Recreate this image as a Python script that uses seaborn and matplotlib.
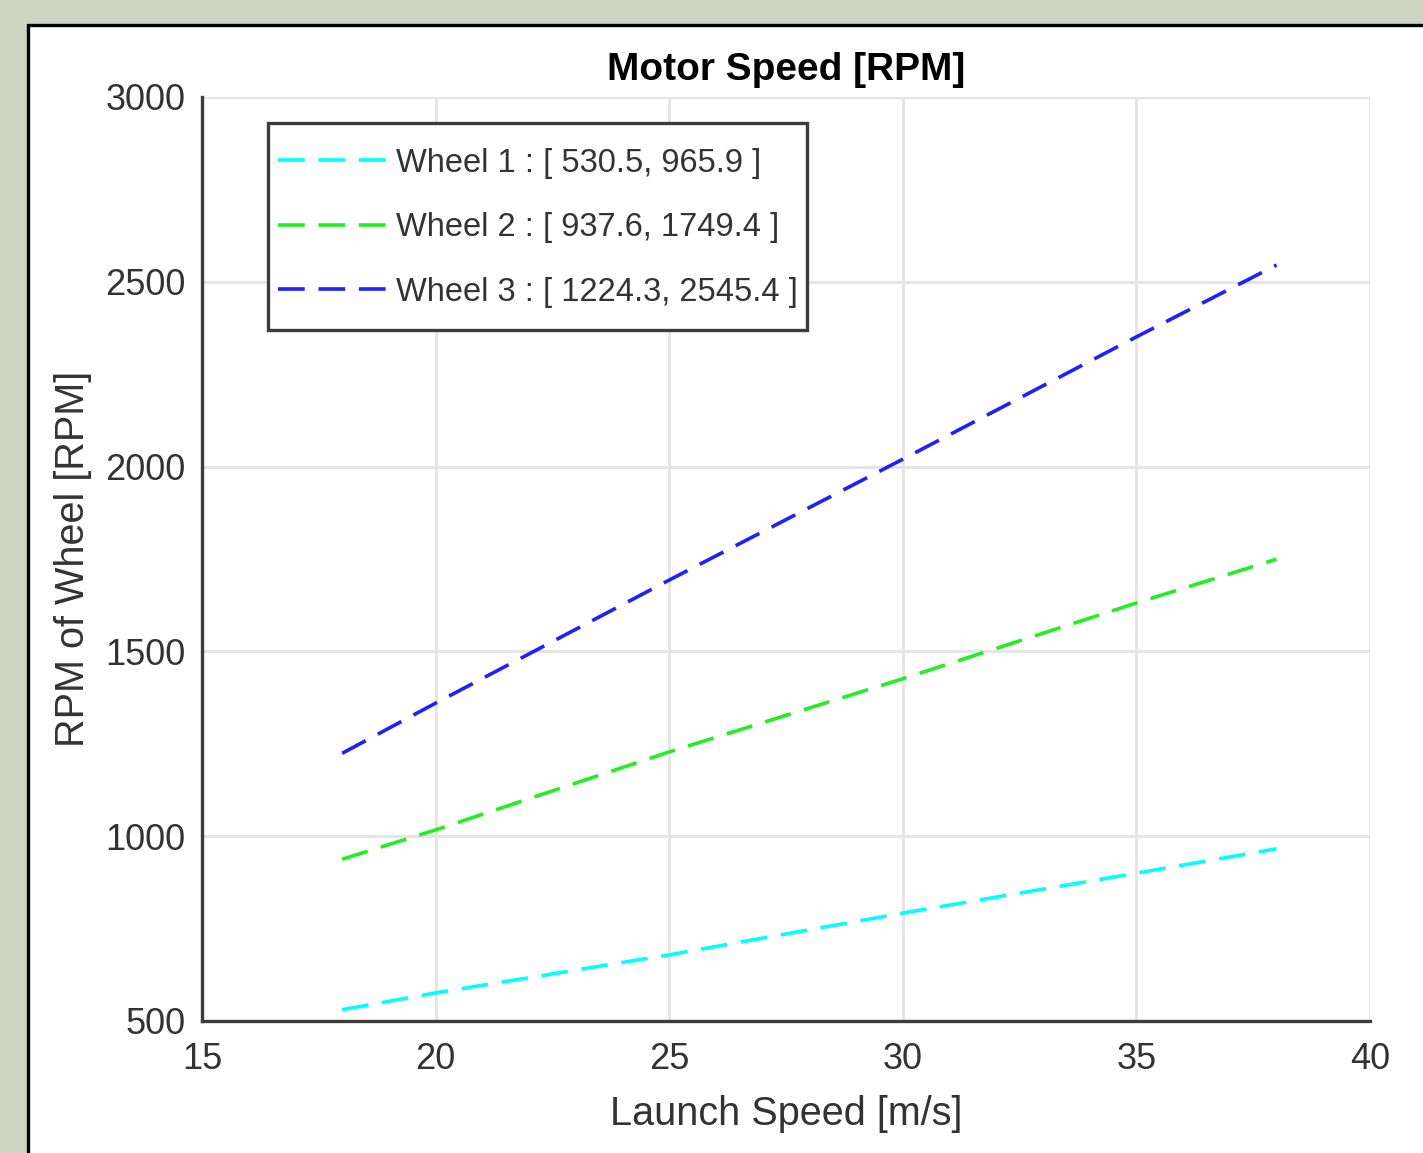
import matplotlib
matplotlib.use("Agg")
import matplotlib.pyplot as plt
import seaborn as sns
import numpy as np
from matplotlib.patches import Rectangle

# ---- data ----
launch_speed = [18, 20, 25, 30, 35, 38]
wheel1 = [530.5, 576, 679, 792, 900, 965.9]
wheel2 = [937.6, 1017, 1228, 1426, 1631, 1749.4]
wheel3 = [1224.3, 1360, 1693, 2020, 2351, 2545.4]
series_labels = ["Wheel 1 : [ 530.5, 965.9 ]",
                 "Wheel 2 : [ 937.6, 1749.4 ]",
                 "Wheel 3 : [ 1224.3, 2545.4 ]"]
series_colors = ["#00ffff", "#22ee22", "#2020ff"]
x_ticks = [15, 20, 25, 30, 35, 40]
y_ticks = [500, 1000, 1500, 2000, 2500, 3000]

sns.set_theme(style="white")
plt.rcParams['font.family'] = ['Liberation Sans', 'DejaVu Sans']

W, H = 1423, 1153
fig = plt.figure(figsize=(W / 100, H / 100), dpi=100)
fig.patch.set_facecolor("#cfd4c1")
panel = Rectangle((28 / W, -0.05), 1.2, 1 - 25 / H + 0.05, transform=fig.transFigure,
                  facecolor="white", edgecolor="black", linewidth=2.4, zorder=-10)
fig.add_artist(panel)

ax = fig.add_axes([202 / W, 1 - 1021 / H, (1370 - 202) / W, (1021 - 97) / H])
ax.set_zorder(5)
ax.set_facecolor("white")

lw = 2.6
dash = (0, (7.4, 3.8))
for yv, lab, col in zip([wheel1, wheel2, wheel3], series_labels, series_colors):
    sns.lineplot(x=launch_speed, y=yv, color=col, linestyle=dash, linewidth=lw,
                 label=lab, ax=ax)

ax.set_xlim(15, 40)
ax.set_ylim(500, 3000)
ax.set_xticks(x_ticks)
ax.set_yticks(y_ticks)
ax.grid(True, color="#e5e5e5", linewidth=2.2)
ax.set_axisbelow(True)
for s in ["top", "right"]:
    ax.spines[s].set_visible(False)
for s in ["left", "bottom"]:
    ax.spines[s].set_color("#3c3c3c")
    ax.spines[s].set_linewidth(2.4)

tick_col = "#333333"
ax.tick_params(axis="both", direction="in", length=6, width=2.4, color="#3c3c3c",
               labelsize=26, labelcolor=tick_col)
ax.tick_params(axis="x", pad=15)
ax.tick_params(axis="y", pad=12)

ax.set_title("Motor Speed [RPM]", fontsize=28, fontweight="bold", color="black", pad=12)
ax.set_xlabel("Launch Speed [m/s]", fontsize=28.5, color=tick_col, labelpad=13)
ax.set_ylabel("RPM of Wheel [RPM]", fontsize=28.5, color=tick_col, labelpad=9)

leg = ax.legend(loc="upper left", bbox_to_anchor=(66 / 1168, (1021 - 123) / 924),
                borderaxespad=0, fontsize=23.5, frameon=True, fancybox=False,
                handlelength=3.4, handleheight=2.32, handletextpad=0.21,
                labelspacing=0.235, borderpad=0.3, labelcolor=tick_col)
# centre the handle lines on the label text
for ln in leg.get_lines():
    ln.set_ydata(np.asarray(ln.get_ydata()) - 5.4)
fr = leg.get_frame()
fr.set_edgecolor("#3c3c3c")
fr.set_linewidth(2.4)
fr.set_facecolor("white")
fr.set_alpha(1)

fig.savefig("out.png", dpi=100, facecolor=fig.get_facecolor())
